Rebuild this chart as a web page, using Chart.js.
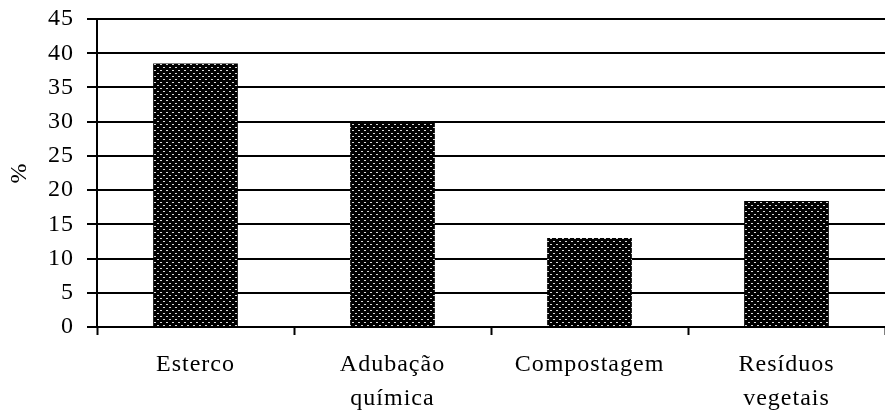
<!DOCTYPE html>
<html>
<head>
<meta charset="utf-8">
<script src="https://cdn.jsdelivr.net/npm/chart.js@4"></script>
<style>
  html, body { margin: 0; padding: 0; background: #fff; }
  #wrap { width: 885px; height: 413px; }
</style>
</head>
<body>
<div id="wrap"><canvas id="usoAdubo"></canvas></div>
<script>
const categorias = [["Esterco"], ["Adubação", "química"], ["Compostagem"], ["Resíduos", "vegetais"]];
const percentuais = [38.5, 29.8, 13.0, 18.4];
const eixoY = { min: 0, max: 45, passo: 5 };

// dotted fill: black background with light dots in a staggered grid
function makeDots(ctx) {
  const c = document.createElement("canvas");
  c.width = 6;
  c.height = 6;
  const p = c.getContext("2d");
  p.fillStyle = "#000";
  p.fillRect(0, 0, 6, 6);
  p.fillStyle = "#d8d8d8";
  p.fillRect(1, 1, 2, 1);
  p.fillRect(4, 4, 2, 1);
  return ctx.createPattern(c, "repeat");
}

const spacing = {
  id: "spacing",
  beforeUpdate(chart) { chart.ctx.letterSpacing = "1px"; },
  beforeDraw(chart) { chart.ctx.letterSpacing = "1px"; },
};

const ctx = document.getElementById("usoAdubo").getContext("2d");
const font = { family: "'Liberation Serif', 'Times New Roman', serif", size: 24 };

new Chart(ctx, {
  type: "bar",
  data: {
    labels: categorias,
    datasets: [
      {
        data: percentuais,
        backgroundColor: makeDots(ctx),
        borderWidth: 0,
        barPercentage: 0.43,
        categoryPercentage: 1,
      },
    ],
  },
  options: {
    responsive: true,
    maintainAspectRatio: false,
    animation: false,
    layout: { padding: { top: 19, right: 0, bottom: 0, left: 0 } },
    plugins: { legend: { display: false }, tooltip: { enabled: false } },
    scales: {
      x: {
        offset: true,
        grid: {
          offset: true,
          drawOnChartArea: false,
          drawTicks: true,
          tickLength: 8,
          tickWidth: 2,
          tickColor: "#000",
        },
        border: { color: "#000", width: 2 },
        ticks: {
          color: "#000",
          font: { ...font, lineHeight: 1.45 },
          padding: 12,
          maxRotation: 0,
        },
        afterFit: (s) => { s.height = 86; },
      },
      y: {
        min: eixoY.min,
        max: eixoY.max,
        grid: {
          color: "#000",
          lineWidth: 2,
          drawTicks: true,
          tickLength: 10,
          tickColor: "#000",
        },
        border: { color: "#000", width: 2 },
        ticks: {
          stepSize: eixoY.passo,
          color: "#000",
          font: font,
          padding: 13,
        },
        title: {
          display: true,
          text: "%",
          color: "#000",
          font: font,
          padding: { top: 5, bottom: 10 },
        },
        afterFit: (s) => {
          s.width = 97;
          s.paddingTop = 0;
          s.paddingBottom = 0;
        },
      },
    },
  },
  plugins: [spacing],
});
</script>
</body>
</html>
